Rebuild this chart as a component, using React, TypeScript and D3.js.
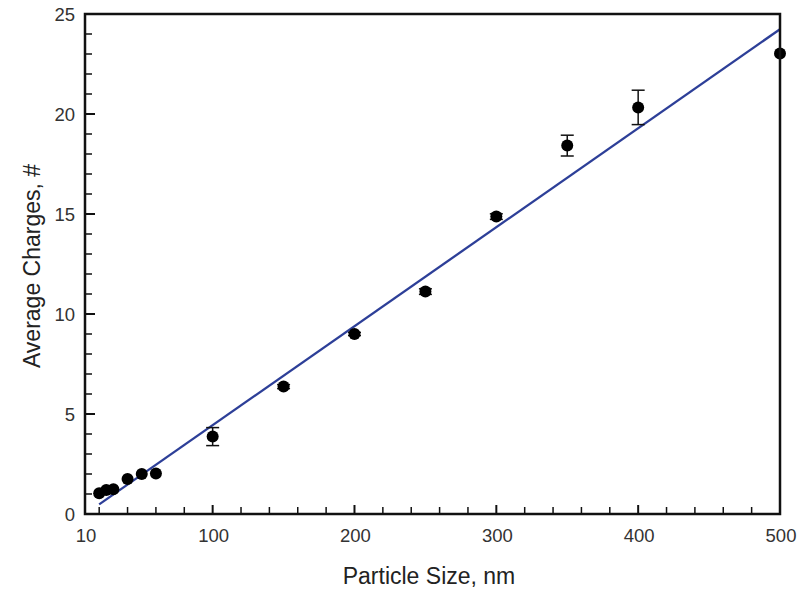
import React, { useEffect } from "react";
import * as d3 from "d3";

const sizes = [20, 25, 30, 40, 50, 60, 100, 150, 200, 250, 300, 350, 400, 500];
const charges = [1.04, 1.2, 1.24, 1.75, 2.0, 2.03, 3.87, 6.37, 9.0, 11.12, 14.87, 18.42, 20.33, 23.03];
const errors = [0, 0, 0, 0, 0, 0, 0.45, 0.1, 0.08, 0.14, 0.14, 0.52, 0.86, 0];
const fitSlope = 0.0495;
const fitIntercept = -0.51;
const fitRange = [20, 500];
const xMajorTicks = [10, 100, 200, 300, 400, 500];
const yMajorTicks = [0, 5, 10, 15, 20, 25];

const W = 798;
const H = 592;
const FONT = "'Liberation Sans', Arial, sans-serif";

export default function App() {
  useEffect(() => {
    document.body.style.margin = "0";
  }, []);

  const x = d3.scaleLinear().domain([10, 500]).range([85, 780]);
  const y = d3.scaleLinear().domain([0, 25]).range([514, 14]);

  const xMinor = d3.range(20, 500, 20).filter((v) => v % 100 !== 0);
  const yMinor = d3.range(1, 25, 1).filter((v) => v % 5 !== 0);

  const line = d3
    .line<number>()
    .x((d) => x(d))
    .y((d) => y(fitSlope * d + fitIntercept));

  const [x0, x1] = x.range();
  const [y0, y1] = y.range();

  return (
    <svg width={W} height={H} style={{ display: "block", background: "#fff" }}>
      {/* fit line */}
      <path d={line(fitRange) || ""} fill="none" stroke="#2d3f98" strokeWidth={2.3} />

      {/* error bars */}
      {sizes.map((s, i) =>
        errors[i] > 0 ? (
          <g key={"e" + i} stroke="#111" strokeWidth={1.5}>
            <line x1={x(s)} x2={x(s)} y1={y(charges[i] - errors[i])} y2={y(charges[i] + errors[i])} />
            <line x1={x(s) - 6.5} x2={x(s) + 6.5} y1={y(charges[i] - errors[i])} y2={y(charges[i] - errors[i])} />
            <line x1={x(s) - 6.5} x2={x(s) + 6.5} y1={y(charges[i] + errors[i])} y2={y(charges[i] + errors[i])} />
          </g>
        ) : null
      )}

      {/* points */}
      {sizes.map((s, i) => (
        <circle key={"p" + i} cx={x(s)} cy={y(charges[i])} r={6} fill="#000" />
      ))}

      {/* frame */}
      <rect x={x0} y={y1} width={x1 - x0} height={y0 - y1} fill="none" stroke="#111" strokeWidth={2.5} />

      {/* x ticks */}
      {xMajorTicks.map((t) => (
        <g key={"xt" + t}>
          <line x1={x(t)} x2={x(t)} y1={y0} y2={y0 - 9} stroke="#111" strokeWidth={2} />
          <text x={x(t) + 1} y={542} textAnchor="middle" fontFamily={FONT} fontSize={18.5} fill="#333">
            {t}
          </text>
        </g>
      ))}
      {xMinor.map((t) => (
        <line key={"xm" + t} x1={x(t)} x2={x(t)} y1={y0} y2={y0 - 7} stroke="#111" strokeWidth={1.5} />
      ))}

      {/* y ticks */}
      {yMajorTicks.map((t) => (
        <g key={"yt" + t}>
          <line x1={x0} x2={x0 + 10} y1={y(t)} y2={y(t)} stroke="#111" strokeWidth={2} />
          <text x={75} y={y(t) + 7} textAnchor="end" fontFamily={FONT} fontSize={18.5} fill="#333">
            {t}
          </text>
        </g>
      ))}
      {yMinor.map((t) => (
        <line key={"ym" + t} x1={x0} x2={x0 + 7} y1={y(t)} y2={y(t)} stroke="#111" strokeWidth={1.5} />
      ))}

      {/* axis titles */}
      <text x={429} y={584} textAnchor="middle" fontFamily={FONT} fontSize={23} fill="#222">
        Particle Size, nm
      </text>
      <text
        transform={`translate(40, 266) rotate(-90)`}
        textAnchor="middle"
        fontFamily={FONT}
        fontSize={23}
        fill="#222"
      >
        Average Charges, #
      </text>
    </svg>
  );
}
